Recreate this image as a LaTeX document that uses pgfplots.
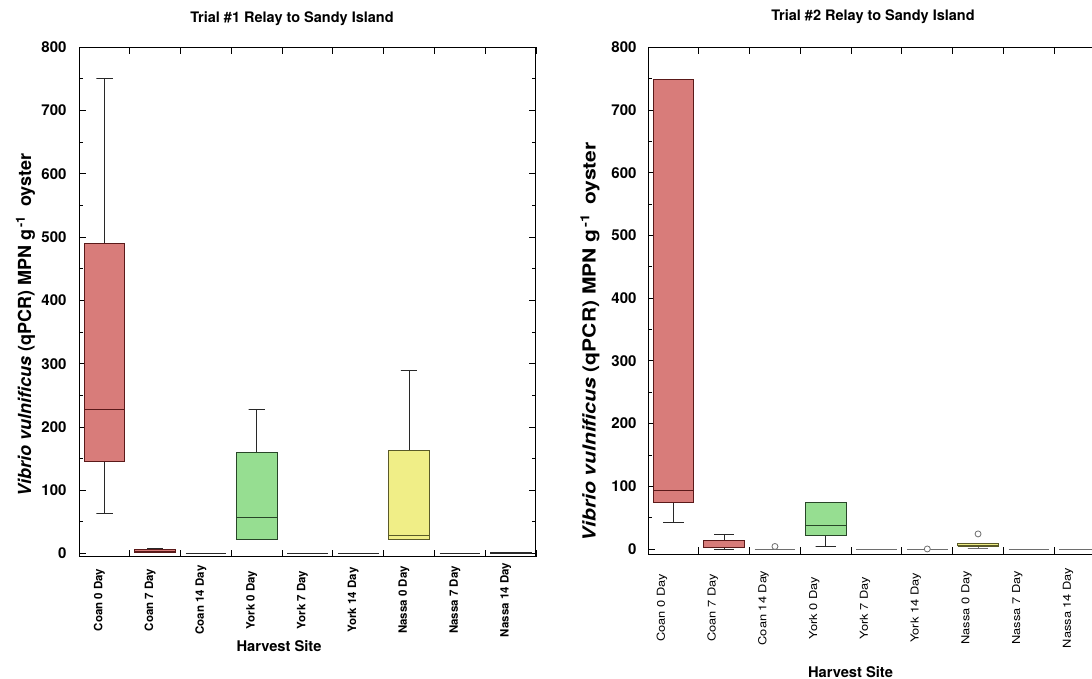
\documentclass[border=0pt]{standalone}
\usepackage{pgfplots}
\pgfplotsset{compat=1.18}
\usepackage{fontspec}
\setmainfont{TeX Gyre Heros}
\newfontfamily\widefont[FakeStretch=1.17]{TeX Gyre Heros}
\definecolor{redfill}{RGB}{216,124,122}
\definecolor{reddraw}{RGB}{90,25,25}
\definecolor{greenfill}{RGB}{150,222,145}
\definecolor{greendraw}{RGB}{40,70,40}
\definecolor{yelfill}{RGB}{240,238,135}
\definecolor{yeldraw}{RGB}{90,90,40}
\definecolor{zerogray}{RGB}{110,110,110}
\definecolor{zerodark}{RGB}{40,40,40}
\pgfplotsset{
  common/.style={
    scale only axis, width=457pt,
    xmin=0.5, xmax=9.5, ymax=800,
    tick align=inside,
    xtick={1.5,2.5,...,9.5},
    xticklabels={Coan 0 Day,Coan 7 Day,Coan 14 Day,York 0 Day,York 7 Day,York 14 Day,Nassa 0 Day,Nassa 7 Day,Nassa 14 Day},
    ytick={0,100,...,800},
    minor y tick num=1,
    major tick length=7pt, minor tick length=4pt,
    axis line style={line width=1pt},
    every tick/.style={line width=0.8pt, black},
    /pgf/number format/assume math mode=true,
    clip=false,
  },
  bR/.style={draw=reddraw, fill=redfill, line width=0.8pt},
  bG/.style={draw=greendraw, fill=greenfill, line width=0.8pt},
  bY/.style={draw=yeldraw, fill=yelfill, line width=0.8pt},
  lR/.style={draw=reddraw, line width=0.8pt},
  lG/.style={draw=greendraw, line width=0.8pt},
  lY/.style={draw=yeldraw, line width=0.8pt},
  lK/.style={draw=zerodark, line width=0.8pt},
  lW/.style={draw=zerogray, line width=0.8pt},
}
\begin{document}
\begin{tikzpicture}
\useasboundingbox (0,0) rectangle (1092pt,679pt);
\clip (0,0) rectangle (1092pt,679pt);

% ---------------- Trial 1 ----------------
\begin{axis}[common,
  at={(79pt,122.3pt)}, anchor=south west, height=509.5pt,
  ymin=-5,
  yticklabel style={font=\fontsize{15}{18}\selectfont\bfseries, xshift=-9pt},
  xticklabel style={font=\fontsize{11.5}{13}\selectfont\bfseries, xshift=-30.4pt, yshift=-43.3pt, rotate=90, anchor=center},
]
% Coan 0 Day: whiskers 63 / 750, quartiles 146 / 490, median 228
\addplot[lK] coordinates {(1,490) (1,750) (0.84,750) (1.16,750)};
\addplot[lK] coordinates {(1,146) (1,63) (0.84,63) (1.16,63)};
\addplot[bR] coordinates {(0.6,146) (1.4,146) (1.4,490) (0.6,490) (0.6,146)};
\addplot[lR] coordinates {(0.6,228) (1.4,228)};
% Coan 7 Day
\addplot[lK] coordinates {(2,7) (2,8) (1.84,8) (2.16,8)};
\addplot[bR] coordinates {(1.6,1) (2.4,1) (2.4,7) (1.6,7) (1.6,1)};
\addplot[lR] coordinates {(1.6,4) (2.4,4)};
% Coan 14 Day
\addplot[lK] coordinates {(2.6,0) (3.4,0)};
% York 0 Day
\addplot[lK] coordinates {(4,160) (4,228) (3.84,228) (4.16,228)};
\addplot[bG] coordinates {(3.6,22) (4.4,22) (4.4,160) (3.6,160) (3.6,22)};
\addplot[lG] coordinates {(3.6,57) (4.4,57)};
% York 7 Day, York 14 Day
\addplot[lK] coordinates {(4.6,0) (5.4,0)};
\addplot[lK] coordinates {(5.6,0) (6.4,0)};
% Nassa 0 Day
\addplot[lK] coordinates {(7,163) (7,290) (6.84,290) (7.16,290)};
\addplot[bY] coordinates {(6.6,22) (7.4,22) (7.4,163) (6.6,163) (6.6,22)};
\addplot[lY] coordinates {(6.6,29) (7.4,29)};
% Nassa 7 Day
\addplot[lK] coordinates {(7.6,0) (8.4,0)};
% Nassa 14 Day
\addplot[lK] coordinates {(8.6,0) (9.4,0) (9.4,2) (8.6,2) (8.6,0)};
\end{axis}

% ---------------- Trial 2 ----------------
\begin{axis}[common,
  at={(648pt,124.7pt)}, anchor=south west, height=507pt,
  ymin=-8.5,
  yticklabel style={font=\fontsize{15}{18}\selectfont\bfseries, xshift=-8pt},
  xticklabel style={font=\widefont\fontsize{11}{13}\selectfont, xshift=-36.9pt, yshift=-53.7pt, rotate=90, anchor=center},
]
% Coan 0 Day
\addplot[lK] coordinates {(1,74) (1,42) (0.8,42) (1.2,42)};
\addplot[bR] coordinates {(0.6,74) (1.4,74) (1.4,748) (0.6,748) (0.6,74)};
\addplot[lR] coordinates {(0.6,93) (1.4,93)};
% Coan 7 Day
\addplot[lK] coordinates {(2,14) (2,24) (1.8,24) (2.2,24)};
\addplot[lK] coordinates {(2,2) (2,0) (1.8,0) (2.2,0)};
\addplot[bR] coordinates {(1.6,2) (2.4,2) (2.4,14) (1.6,14) (1.6,2)};
\addplot[lR] coordinates {(1.6,3) (2.4,3)};
% Coan 14 Day
\addplot[lW] coordinates {(2.6,0) (3.4,0)};
% York 0 Day
\addplot[lK] coordinates {(4,22) (4,4) (3.8,4) (4.2,4)};
\addplot[bG] coordinates {(3.6,22) (4.4,22) (4.4,74) (3.6,74) (3.6,22)};
\addplot[lG] coordinates {(3.6,37) (4.4,37)};
% York 7 Day, York 14 Day
\addplot[lW] coordinates {(4.6,0) (5.4,0)};
\addplot[lW] coordinates {(5.6,0) (6.4,0)};
% Nassa 0 Day
\addplot[lW] coordinates {(7,4) (7,1) (6.8,1) (7.2,1)};
\addplot[bY] coordinates {(6.6,4) (7.4,4) (7.4,9) (6.6,9) (6.6,4)};
\addplot[lY] coordinates {(6.6,6) (7.4,6)};
% Nassa 7 Day, Nassa 14 Day
\addplot[lW] coordinates {(7.6,0) (8.4,0)};
\addplot[lW] coordinates {(8.6,0) (9.4,0)};
% outliers
\addplot[only marks, mark=*, mark size=3pt, mark options={fill=white, draw=zerogray, line width=0.8pt}] coordinates {(3,4) (6,0) (7,24)};
\end{axis}

% ---------------- Texts ----------------
\node[font=\fontsize{14.5}{17}\selectfont\bfseries] at (292pt,660pt) {Trial \#1 Relay to Sandy Island};
\node[font=\fontsize{14.5}{17}\selectfont\bfseries] at (873pt,662pt) {Trial \#2 Relay to Sandy Island};
\node[font=\fontsize{14.7}{17}\selectfont\bfseries] at (279pt,33pt) {Harvest Site};
\node[font=\fontsize{14.7}{17}\selectfont\bfseries] at (850.5pt,7pt) {Harvest Site};
\node[rotate=90, font=\fontsize{18}{21}\selectfont\bfseries] at (25.5pt,354pt) {\textit{Vibrio vulnificus} (qPCR) MPN g\textsuperscript{\,-1}\enspace oyster};
\node[rotate=90, font=\widefont\fontsize{18}{21}\selectfont\bfseries] at (590pt,337pt) {\textit{Vibrio vulnificus} (qPCR) MPN g\textsuperscript{\,-1}\enspace oyster};
\end{tikzpicture}
\end{document}
